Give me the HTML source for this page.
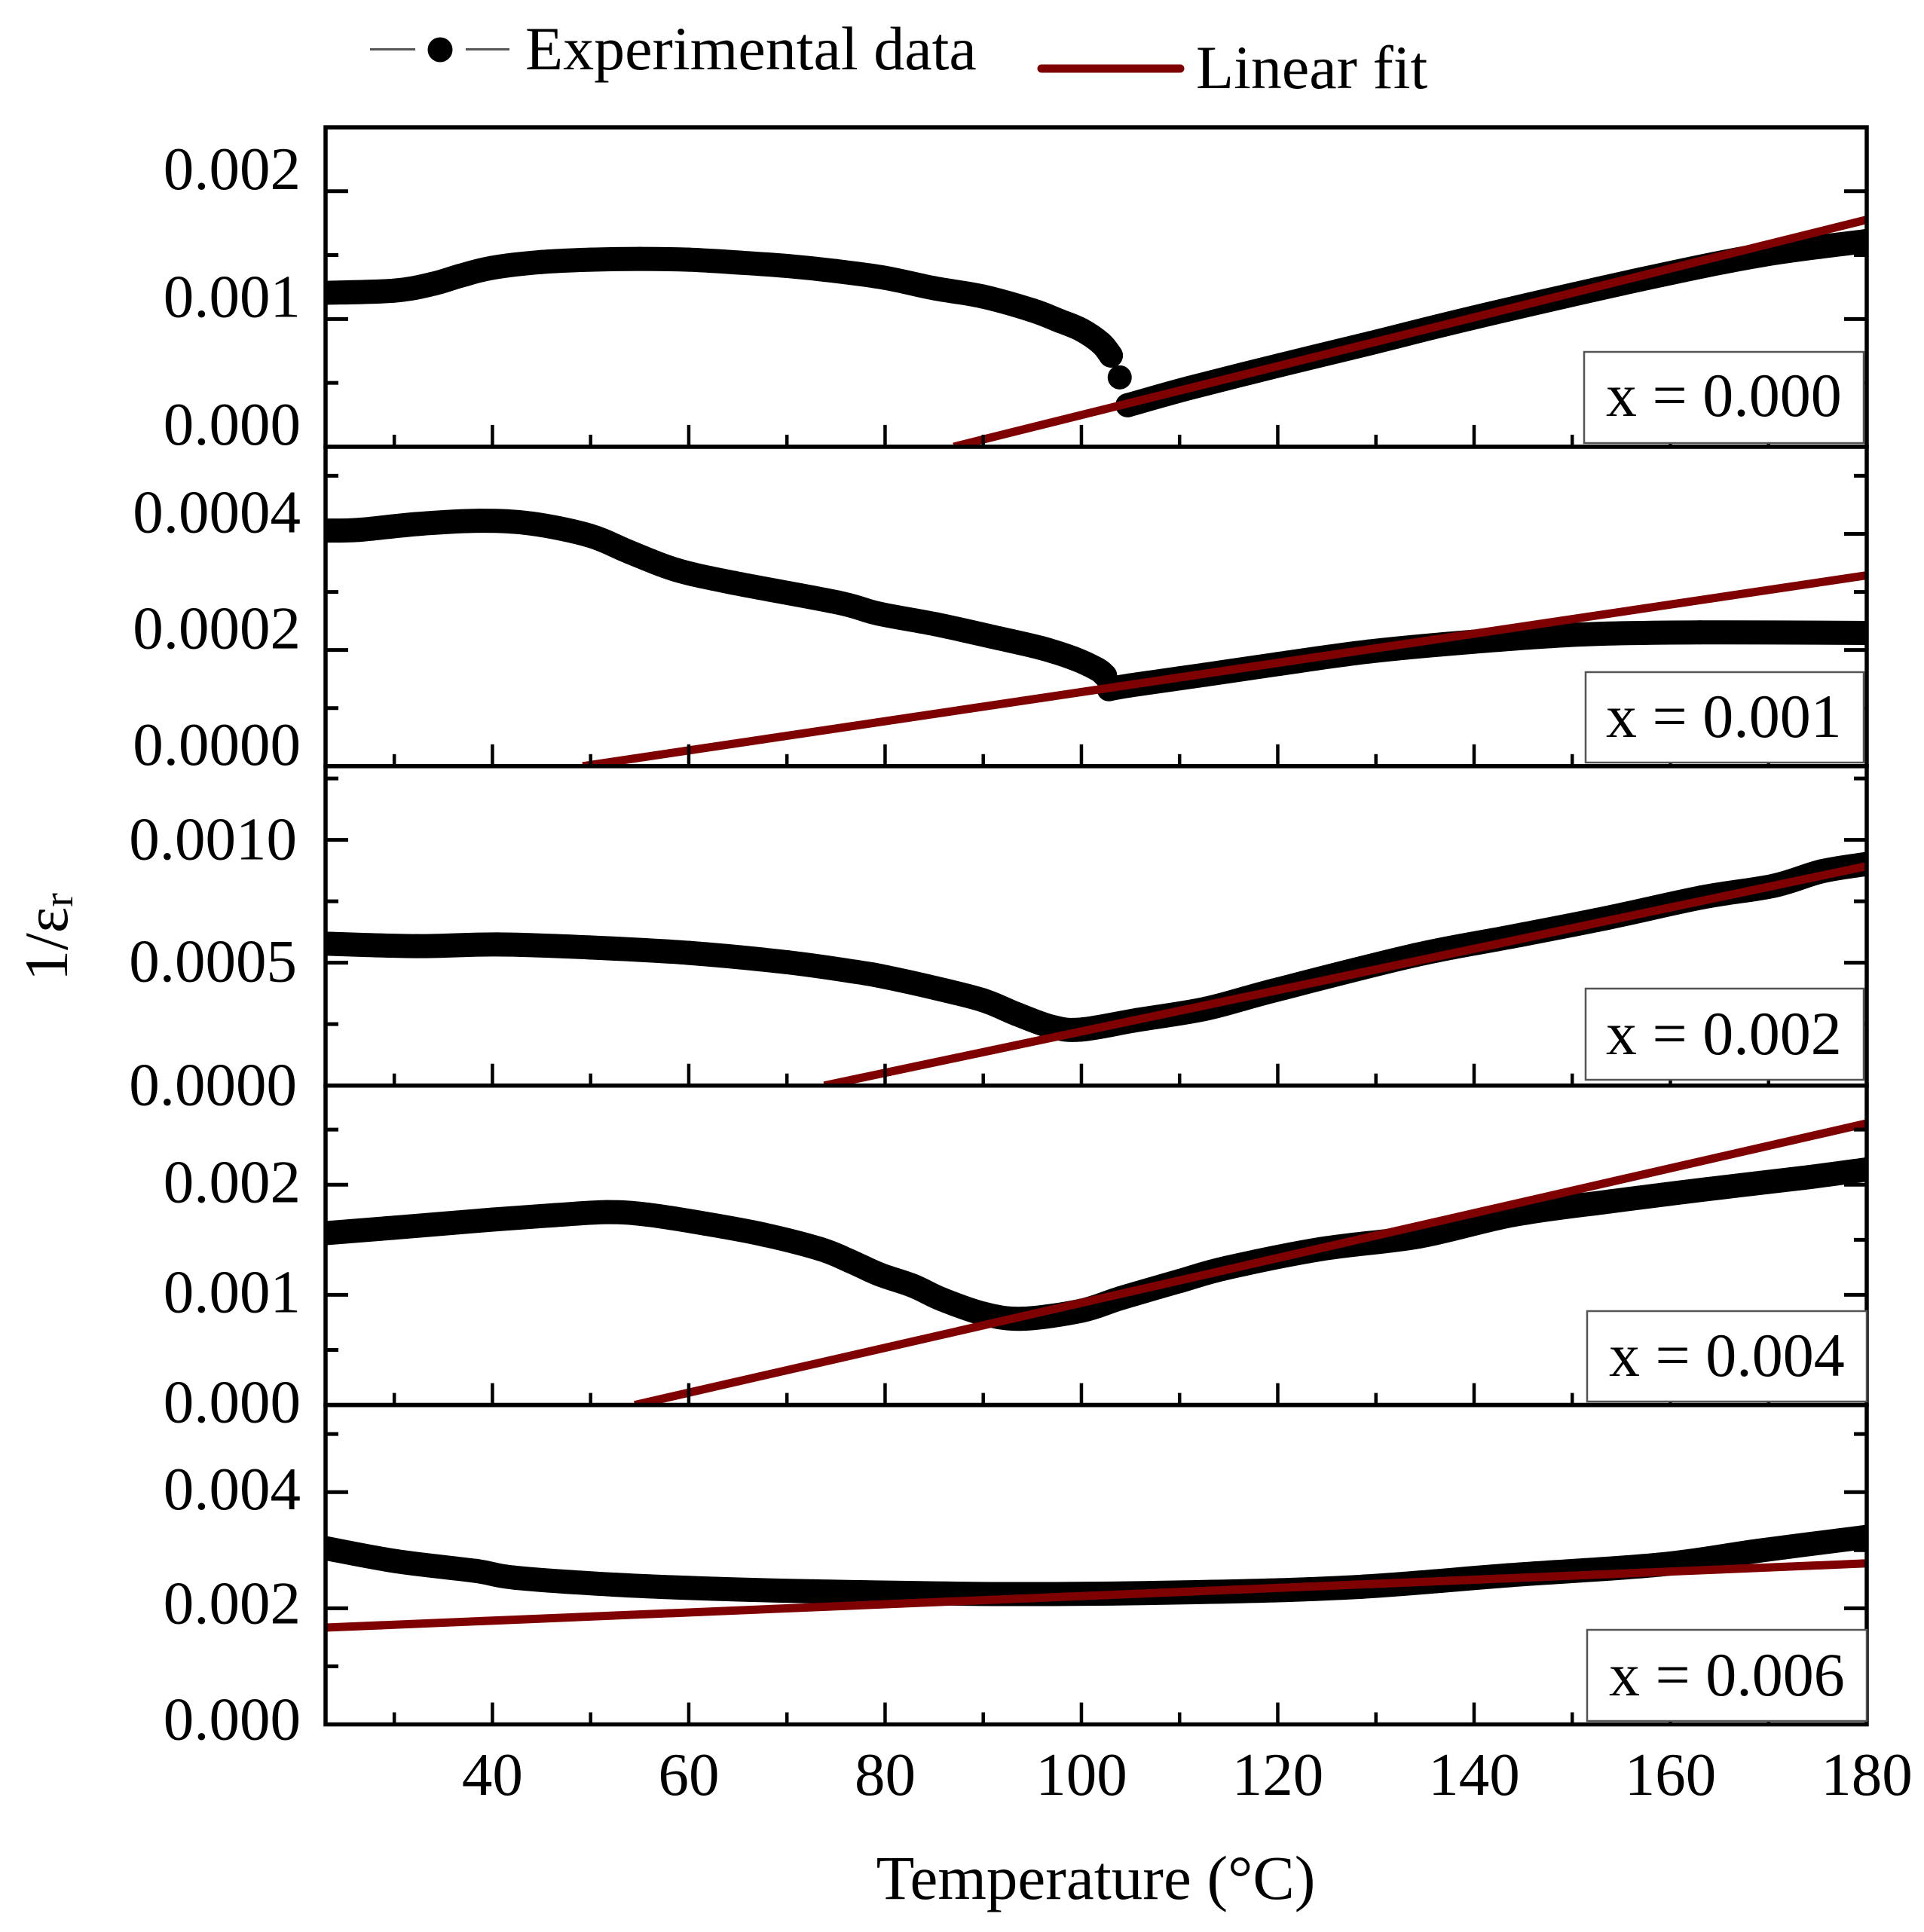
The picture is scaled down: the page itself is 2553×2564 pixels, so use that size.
<!DOCTYPE html>
<html lang="en">
<head>
<meta charset="utf-8">
<title>Inverse permittivity versus temperature</title>
<style>
html,body{margin:0;padding:0;background:#fff;}
svg{display:block;}
text{font-family:"Liberation Serif",serif;fill:#000;}
</style>
</head>
<body>
<svg id="figure" xmlns="http://www.w3.org/2000/svg" width="2553" height="2564" viewBox="0 0 2553 2564">
  <rect x="0" y="0" width="2553" height="2564" fill="#fff"/>

  <g>
    <line x1="491" y1="65.5" x2="551" y2="65.5" stroke="#555" stroke-width="3"/>
    <circle cx="584" cy="66" r="16.5" fill="#000"/>
    <line x1="618" y1="65.5" x2="676" y2="65.5" stroke="#555" stroke-width="3"/>
    <text x="697" y="92" font-size="82">Experimental data</text>
    <line x1="1382" y1="91" x2="1566" y2="91" stroke="#7f0000" stroke-width="11" stroke-linecap="round"/>
    <text x="1587" y="117" font-size="82">Linear fit</text>
  </g>

  <defs>
    <clipPath id="clip-0"><rect x="432" y="169" width="2045" height="424"/></clipPath>
    <clipPath id="clip-1"><rect x="432" y="593" width="2045" height="424"/></clipPath>
    <clipPath id="clip-2"><rect x="432" y="1017" width="2045" height="424"/></clipPath>
    <clipPath id="clip-3"><rect x="432" y="1441" width="2045" height="424"/></clipPath>
    <clipPath id="clip-4"><rect x="432" y="1865" width="2045" height="424"/></clipPath>
  </defs>

  <g id="chart"></g>

  <g>
    <g>
      <rect x="2102" y="467" width="371" height="121" fill="#fff" stroke="#555" stroke-width="2.5"/>
      <text x="2131" y="552" font-size="82">x = 0.000</text>
    </g>
    <g>
      <rect x="2104" y="892" width="369" height="120" fill="#fff" stroke="#555" stroke-width="2.5"/>
      <text x="2131" y="978" font-size="82">x = 0.001</text>
    </g>
    <g>
      <rect x="2104" y="1312" width="369" height="121" fill="#fff" stroke="#555" stroke-width="2.5"/>
      <text x="2131" y="1399" font-size="82">x = 0.002</text>
    </g>
    <g>
      <rect x="2106" y="1740" width="371" height="120" fill="#fff" stroke="#555" stroke-width="2.5"/>
      <text x="2135" y="1826" font-size="82">x = 0.004</text>
    </g>
    <g>
      <rect x="2106" y="2163" width="371" height="121" fill="#fff" stroke="#555" stroke-width="2.5"/>
      <text x="2135" y="2250" font-size="82">x = 0.006</text>
    </g>
  </g>

  <text transform="translate(89 1302) rotate(-90)" font-size="82">1/ε<tspan font-size="56" dy="7">r</tspan></text>
  <text x="1454" y="2520" font-size="83" text-anchor="middle">Temperature (°C)</text>
</svg>

<script>
// ---------- data ----------
const xMajorTicks = [40, 60, 80, 100, 120, 140, 160, 180];
const xMinorTicks = [30, 50, 70, 90, 110, 130, 150, 170];
const xTickLabels = ['40', '60', '80', '100', '120', '140', '160', '180'];

const tempsA = [23, 30, 34, 36.8, 40, 45, 50, 55, 60, 65, 70, 75, 80, 85, 90, 95, 97.7, 100, 102, 103, null, 103.9, null, 104.7, 111, 120.3, 129.4, 139.9, 157, 169.3, 180];
const valuesA = [0.001205, 0.001222, 0.001276, 0.00134, 0.001401, 0.001446, 0.001464, 0.00147, 0.001464, 0.001442, 0.001415, 0.001375, 0.001322, 0.001241, 0.001175, 0.001068, 0.000988, 0.000915, 0.00081, 0.000714, null, 0.000543, null, 0.000325, 0.00046, 0.00064, 0.00081, 0.00101, 0.00131, 0.0015, 0.00161];
const fitTempsA = [87, 180];
const fitValuesA = [0, 0.001777];

const tempsB = [23, 26.4, 32.3, 38.7, 44, 49.9, 54, 58.7, 64.6, 75.2, 79.3, 85.2, 91, 95.8, 99.2, 101.6, 102.4, null, 102.8, 105, 112.6, 120, 129.3, 140, 151, 163, 180];
const valuesB = [0.0004056, 0.0004069, 0.0004169, 0.0004225, 0.0004177, 0.000397, 0.0003684, 0.0003381, 0.0003156, 0.0002818, 0.0002628, 0.0002442, 0.0002225, 0.0002039, 0.0001857, 0.0001671, 0.0001562, null, 0.0001325, 0.0001392, 0.0001575, 0.0001758, 0.0001974, 0.0002143, 0.0002268, 0.0002304, 0.0002294];
const fitTempsB = [49.2, 180];
const fitValuesB = [0, 0.0003286];

const tempsC = [23, 32.3, 40.5, 49.9, 60, 70, 77, 80, 85.2, 90, 93.4, 97, 100, 105.7, 112.7, 119.6, 134, 143.8, 153.5, 163.2, 170.5, 175.4, 180];
const valuesC = [0.0005776, 0.0005675, 0.0005745, 0.0005623, 0.00054, 0.000502, 0.000463, 0.000442, 0.000396, 0.000347, 0.000291, 0.000239, 0.000228, 0.000267, 0.000313, 0.000387, 0.000531, 0.000606, 0.000682, 0.000766, 0.000813, 0.000872, 0.000902];
const fitTempsC = [73.8, 180];
const fitValuesC = [0, 0.000893];

const tempsD = [23, 30, 40, 46.4, 51.7, 55.8, 61.7, 67.6, 73.4, 76.4, 79.4, 82.9, 85.8, 90, 94, 100, 104, 110, 114.8, 124.5, 134.4, 144, 153.9, 163.7, 173.5, 180];
const valuesD = [0.00156, 0.00161, 0.001683, 0.001724, 0.001751, 0.001728, 0.001646, 0.001548, 0.001416, 0.001308, 0.001187, 0.00108, 0.000959, 0.000829, 0.000783, 0.000856, 0.00097, 0.001125, 0.001245, 0.001417, 0.00153, 0.001726, 0.001849, 0.001959, 0.002062, 0.002139];
const fitTempsD = [54.5, 180];
const fitValuesD = [0, 0.002557];

const tempsE = [23, 30.2, 38.3, 42.3, 52.5, 62.6, 72.7, 93, 113.3, 128.5, 143.6, 158.9, 169, 180];
const valuesE = [0.003034, 0.00281, 0.002643, 0.002526, 0.002405, 0.002335, 0.002292, 0.002244, 0.002283, 0.00237, 0.002569, 0.002751, 0.002991, 0.003229];
const fitTempsE = [23, 180];
const fitValuesE = [0.001667, 0.002773];

const yLimits = [0.0025, 0.00055, 0.0013, 0.0029, 0.0055];
const yMajorTicksA = [0.001, 0.002];
const yMinorTicksA = [0.0005, 0.0015];
const yMajorTicksB = [0.0002, 0.0004];
const yMinorTicksB = [0.0001, 0.0003, 0.0005];
const yMajorTicksC = [0.0005, 0.001];
const yMinorTicksC = [0.00025, 0.00075, 0.00125];
const yMajorTicksD = [0.001, 0.002];
const yMinorTicksD = [0.0005, 0.0015, 0.0025];
const yMajorTicksE = [0.002, 0.004];
const yMinorTicksE = [0.001, 0.003, 0.005];
const yLabelValuesA = [0, 0.001, 0.002];
const yLabelValuesB = [0, 0.0002, 0.0004];
const yLabelValuesC = [0, 0.0005, 0.001];
const yLabelValuesD = [0, 0.001, 0.002];
const yLabelValuesE = [0, 0.002, 0.004];
const yLabelTextA = ['0.000', '0.001', '0.002'];
const yLabelTextB = ['0.0000', '0.0002', '0.0004'];
const yLabelTextC = ['0.0000', '0.0005', '0.0010'];
const yLabelTextD = ['0.000', '0.001', '0.002'];
const yLabelTextE = ['0.000', '0.002', '0.004'];

// ---------- layout ----------
const plotLeft = 432, plotRight = 2477, plotTop = 169, panelH = 423.9;
const xMin = 23, xMax = 180;
const markerRadius = 16;

const panels = [
  {temps: tempsA, vals: valuesA, fitT: fitTempsA, fitV: fitValuesA, major: yMajorTicksA, minor: yMinorTicksA, lv: yLabelValuesA, lt: yLabelTextA, shift: [-3, -3, -3], labelRight: 399},
  {temps: tempsB, vals: valuesB, fitT: fitTempsB, fitV: fitValuesB, major: yMajorTicksB, minor: yMinorTicksB, lv: yLabelValuesB, lt: yLabelTextB, shift: [-2, -2, -2], labelRight: 399},
  {temps: tempsC, vals: valuesC, fitT: fitTempsC, fitV: fitValuesC, major: yMajorTicksC, minor: yMinorTicksC, lv: yLabelValuesC, lt: yLabelTextC, shift: [26, 25, 26], labelRight: 394},
  {temps: tempsD, vals: valuesD, fitT: fitTempsD, fitV: fitValuesD, major: yMajorTicksD, minor: yMinorTicksD, lv: yLabelValuesD, lt: yLabelTextD, shift: [23, 23, 23], labelRight: 399},
  {temps: tempsE, vals: valuesE, fitT: fitTempsE, fitV: fitValuesE, major: yMajorTicksE, minor: yMinorTicksE, lv: yLabelValuesE, lt: yLabelTextE, shift: [20, 20, 23], labelRight: 399}
];

function xScale(t) {
  return plotLeft + (t - xMin) / (xMax - xMin) * (plotRight - plotLeft);
}
function panelBase(p) {
  return plotTop + (p + 1) * panelH;
}
function yScale(p, v) {
  return panelBase(p) - v / yLimits[p] * panelH;
}

const NS = 'http://www.w3.org/2000/svg';
function make(tag, attrs, parent) {
  const el = document.createElementNS(NS, tag);
  for (const k in attrs) el.setAttribute(k, attrs[k]);
  parent.appendChild(el);
  return el;
}

// smooth curve through the read points
function smoothPath(pts) {
  let d = 'M' + pts[0][0] + ' ' + pts[0][1];
  for (let i = 0; i < pts.length - 1; i++) {
    const p0 = pts[Math.max(i - 1, 0)];
    const p1 = pts[i];
    const p2 = pts[i + 1];
    const p3 = pts[Math.min(i + 2, pts.length - 1)];
    const c1x = p1[0] + (p2[0] - p0[0]) / 6;
    const c1y = p1[1] + (p2[1] - p0[1]) / 6;
    const c2x = p2[0] - (p3[0] - p1[0]) / 6;
    const c2y = p2[1] - (p3[1] - p1[1]) / 6;
    d += ' C' + c1x + ' ' + c1y + ' ' + c2x + ' ' + c2y + ' ' + p2[0] + ' ' + p2[1];
  }
  return d;
}

const chart = document.getElementById('chart');

panels.forEach(function (panel, p) {
  const g = make('g', {}, chart);
  
  

  // experimental series: connecting band plus markers
  const series = make('g', {'clip-path': 'url(#clip-' + p + ')'}, g);
  
  

  let run = [];
  function flush() {
    if (run.length > 1) {
      const line = make('path', {
        d: smoothPath(run),
        fill: 'none',
        stroke: '#000',
        'stroke-width': markerRadius * 2,
        'stroke-linejoin': 'round',
        'stroke-linecap': 'round'
      }, series);
      
      
    }
    run = [];
  }
  panel.temps.forEach(function (t, i) {
    if (t === null) { flush(); return; }
    const px = xScale(t);
    const py = yScale(p, panel.vals[i]);
    run.push([px, py]);
    const dot = make('circle', {cx: px, cy: py, r: markerRadius, fill: '#000'}, series);
    
    
  });
  flush();

  // linear fit
  const fitGroup = make('g', {'clip-path': 'url(#clip-' + p + ')'}, g);
  
  
  const fit = make('line', {
    x1: xScale(panel.fitT[0]),
    y1: yScale(p, panel.fitV[0]),
    x2: xScale(panel.fitT[1]),
    y2: yScale(p, panel.fitV[1]),
    stroke: '#7f0000',
    'stroke-width': 11
  }, fitGroup);
  
  

  // x ticks (inside, bottom of each panel)
  xMajorTicks.forEach(function (t) {
    if (t >= xMax) return;
    const tick = make('line', {x1: xScale(t), x2: xScale(t), y1: panelBase(p), y2: panelBase(p) - 29, stroke: '#000', 'stroke-width': 4.5}, g);
    
    
  });
  xMinorTicks.forEach(function (t) {
    const tick = make('line', {x1: xScale(t), x2: xScale(t), y1: panelBase(p), y2: panelBase(p) - 16, stroke: '#000', 'stroke-width': 4.5}, g);
    
    
  });

  // y ticks (inside, both sides)
  panel.major.forEach(function (v) {
    const left = make('line', {x1: plotLeft, x2: plotLeft + 30, y1: yScale(p, v), y2: yScale(p, v), stroke: '#000', 'stroke-width': 5}, g);
    
    
    const right = make('line', {x1: plotRight, x2: plotRight - 30, y1: yScale(p, v), y2: yScale(p, v), stroke: '#000', 'stroke-width': 5}, g);
    
    
  });
  panel.minor.forEach(function (v) {
    const left = make('line', {x1: plotLeft, x2: plotLeft + 17, y1: yScale(p, v), y2: yScale(p, v), stroke: '#000', 'stroke-width': 5}, g);
    
    
    const right = make('line', {x1: plotRight, x2: plotRight - 17, y1: yScale(p, v), y2: yScale(p, v), stroke: '#000', 'stroke-width': 5}, g);
    
    
  });

  // y tick labels
  panel.lv.forEach(function (v, i) {
    const label = make('text', {x: panel.labelRight, y: yScale(p, v) + panel.shift[i], 'font-size': 81, 'text-anchor': 'end'}, g);
    label.textContent = panel.lt[i];
    
    
  });

  // frame
  const frame = make('rect', {
    x: plotLeft,
    y: panelBase(p) - panelH,
    width: plotRight - plotLeft,
    height: panelH,
    fill: 'none',
    stroke: '#000',
    'stroke-width': 5.5
  }, g);
  
  
});

// x tick labels under the bottom panel
xMajorTicks.forEach(function (t, i) {
  const label = make('text', {x: xScale(t), y: 2382, 'font-size': 81, 'text-anchor': 'middle'}, chart);
  label.textContent = xTickLabels[i];
  
  
});
</script>
</body>
</html>
